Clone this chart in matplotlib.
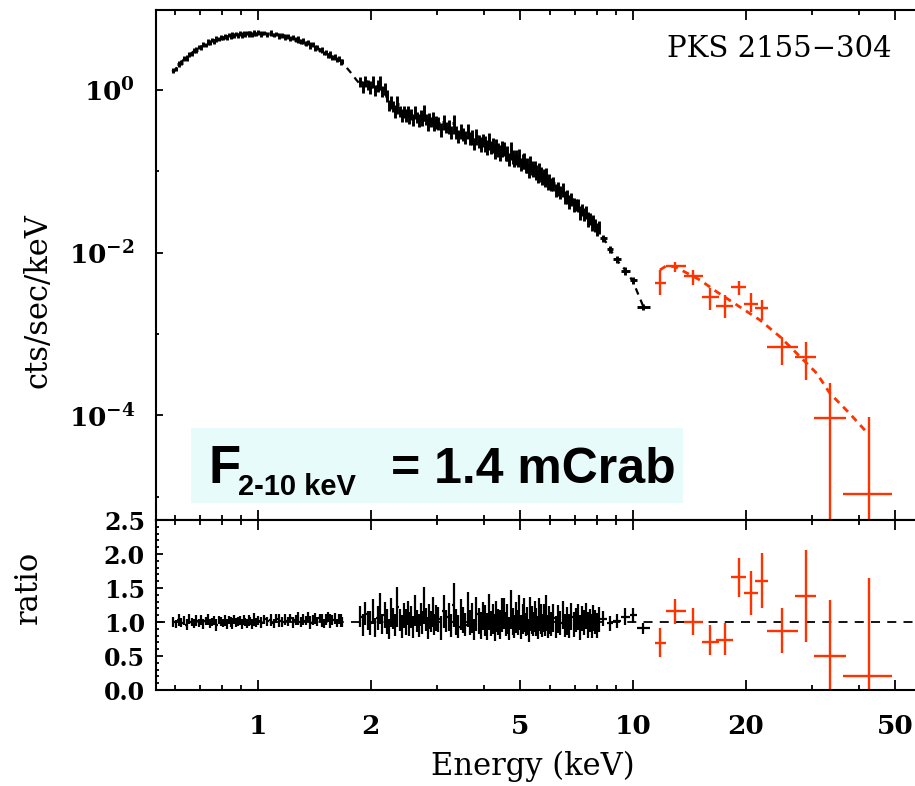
import numpy as np
import matplotlib.pyplot as plt
from matplotlib.patches import Rectangle
from matplotlib.ticker import FixedLocator, FixedFormatter, MultipleLocator, NullFormatter

plt.rcParams['font.family'] = ['DejaVu Serif']
plt.rcParams['mathtext.fontset'] = 'dejavuserif'

RED = '#ff3300'

# ---------------- soft band (black), contiguous bins, keV ----------------
soft_edges = [0.59, 0.60, 0.61, 0.62, 0.63, 0.64, 0.65, 0.66, 0.67, 0.68, 0.69,
              0.70, 0.71, 0.72, 0.73, 0.74, 0.75, 0.76, 0.77, 0.78, 0.79,
              0.80, 0.81, 0.82, 0.83, 0.84, 0.85, 0.86, 0.87, 0.88, 0.89,
              0.90, 0.91, 0.92, 0.93, 0.94, 0.95, 0.96, 0.97, 0.98, 0.99,
              1.01, 1.03, 1.05, 1.07, 1.09, 1.11, 1.13, 1.15, 1.17, 1.19,
              1.21, 1.23, 1.25, 1.27, 1.29, 1.31, 1.33, 1.35, 1.37, 1.39,
              1.41, 1.43, 1.45, 1.47, 1.49, 1.51, 1.53, 1.55, 1.57, 1.59,
              1.61, 1.63, 1.65, 1.67, 1.69]
soft_cts = [1.74, 1.82, 2.08, 2.17, 2.44, 2.49, 2.74, 2.80, 3.07, 3.12,
            3.39, 3.38, 3.63, 3.62, 3.88, 3.84, 4.09, 4.01, 4.26, 4.21,
            4.45, 4.36, 4.58, 4.49, 4.71, 4.60, 4.80, 4.69, 4.90, 4.75,
            4.95, 4.80, 5.00, 4.84, 5.04, 4.86, 5.06, 4.88, 5.08, 4.90,
            5.07, 4.91, 5.06, 4.87, 5.01, 4.76, 4.85, 4.61, 4.72, 4.47,
            4.57, 4.32, 4.42, 4.14, 4.21, 3.93, 4.00, 3.73, 3.80, 3.54,
            3.62, 3.32, 3.36, 3.08, 3.12, 2.86, 2.90, 2.68, 2.72, 2.52,
            2.57, 2.37, 2.42, 2.22, 2.25]
soft_ratio = [1.00, 0.97, 1.03, 0.99, 1.02, 0.96, 1.04, 1.00, 0.98, 1.02,
              0.99, 1.03, 0.97, 1.01, 1.04, 0.98, 1.00, 1.02, 0.96, 1.03,
              1.01, 0.99, 1.02, 0.97, 1.03, 1.00, 0.98, 1.04, 0.99, 1.01,
              1.02, 0.97, 1.03, 1.00, 0.98, 1.02, 1.01, 0.97, 1.04, 0.99,
              1.02, 0.99, 1.04, 1.01, 1.03, 0.98, 1.05, 1.02, 1.00, 1.04,
              1.01, 1.06, 0.99, 1.03, 1.05, 1.00, 1.04, 1.02, 1.07, 0.99,
              1.03, 1.05, 1.01, 1.06, 1.02, 0.98, 1.04, 1.07, 1.01, 1.03,
              1.05, 0.99, 1.04, 1.02, 1.00]
soft_frac = [0.07, 0.06, 0.08, 0.07, 0.06, 0.08, 0.07, 0.06, 0.07, 0.08,
             0.06, 0.07, 0.07, 0.06, 0.08, 0.07, 0.06, 0.07, 0.09, 0.06,
             0.07, 0.06, 0.08, 0.07, 0.06, 0.07, 0.08, 0.06, 0.07, 0.07,
             0.06, 0.08, 0.07, 0.06, 0.07, 0.08, 0.06, 0.07, 0.09, 0.07,
             0.07, 0.08, 0.06, 0.07, 0.08, 0.07, 0.06, 0.09, 0.07, 0.08,
             0.07, 0.06, 0.08, 0.07, 0.09, 0.07, 0.08, 0.06, 0.07, 0.10,
             0.07, 0.08, 0.07, 0.06, 0.09, 0.07, 0.08, 0.07, 0.10, 0.07,
             0.08, 0.06, 0.07, 0.09, 0.08]

# ---------------- hard band (black), contiguous bins, keV ----------------
hard_edges = [1.86, 1.89, 1.92, 1.95, 1.98, 2.01, 2.04, 2.07, 2.10, 2.13, 2.16, 2.19,
              2.22, 2.25, 2.28, 2.31, 2.34, 2.37, 2.40, 2.43, 2.46, 2.49, 2.52, 2.55,
              2.58, 2.61, 2.64, 2.67, 2.70, 2.73, 2.76, 2.79, 2.82, 2.85, 2.88, 2.91,
              2.94, 2.97, 3.00,
              3.05, 3.10, 3.15, 3.20, 3.25, 3.30, 3.35, 3.40, 3.45, 3.50,
              3.55, 3.60, 3.65, 3.70, 3.75, 3.80, 3.85, 3.90, 3.95, 4.00,
              4.05, 4.10, 4.15, 4.20, 4.25, 4.30, 4.35, 4.40, 4.45, 4.50,
              4.55, 4.60, 4.65, 4.70, 4.75, 4.80, 4.85, 4.90, 4.95, 5.00,
              5.05, 5.10, 5.15, 5.20, 5.25, 5.30, 5.35, 5.40, 5.45, 5.50,
              5.55, 5.60, 5.65, 5.70, 5.75, 5.80, 5.85, 5.90, 5.95, 6.00,
              6.09, 6.18, 6.27, 6.36, 6.45, 6.54, 6.63, 6.72, 6.81, 6.90, 6.99, 7.08,
              7.17, 7.26, 7.35, 7.44, 7.53, 7.62, 7.71, 7.80, 7.89, 7.98, 8.07, 8.16,
              8.50, 8.85, 9.30, 9.80, 10.25, 11.10]
hard_cts = [1.253, 1.093, 1.277, 1.153, 1.098, 1.277, 1.003, 1.124, 1.236, 0.970,
            1.045, 0.859, 0.648, 0.718, 0.630, 0.552, 0.671, 0.551, 0.489, 0.550,
            0.497, 0.554, 0.469, 0.509, 0.435, 0.539, 0.464, 0.427, 0.492, 0.433,
            0.534, 0.442, 0.380, 0.444, 0.408, 0.457, 0.374, 0.406,
            0.389, 0.330, 0.408, 0.349, 0.355, 0.306, 0.391, 0.304, 0.275, 0.320,
            0.289, 0.264, 0.316, 0.257, 0.268, 0.220, 0.270, 0.237, 0.219, 0.244,
            0.223, 0.201, 0.240, 0.200, 0.210, 0.180, 0.207, 0.187, 0.174, 0.194,
            0.193, 0.161, 0.168, 0.142, 0.183, 0.152, 0.137, 0.152, 0.138, 0.154,
            0.123, 0.134, 0.138, 0.116, 0.120, 0.102, 0.127, 0.112, 0.103, 0.110,
            0.099, 0.0883, 0.103, 0.0936, 0.0827, 0.0890, 0.0794, 0.0893, 0.0714, 0.0762,
            0.0694, 0.0710, 0.0589, 0.0624, 0.0564, 0.0595, 0.0487, 0.0495, 0.0429, 0.0462,
            0.0391, 0.0391, 0.0383, 0.0311, 0.0336, 0.0300, 0.0313, 0.0261, 0.0262, 0.0228,
            0.0244, 0.0219, 0.0197, 0.0205,
            0.0150, 0.0110, 0.0083, 0.0060, 0.0046, 0.00216]
hard_ratio = [1.08, 0.95, 1.12, 1.02, 0.98, 1.15, 0.92, 1.06, 1.20, 0.97,
              1.10, 1.01, 0.90, 1.14, 1.05, 0.96, 1.22, 1.03, 0.94, 1.09,
              1.00, 1.13, 0.97, 1.07, 0.93, 1.17, 1.02, 0.95, 1.11, 0.99,
              1.24, 1.04, 0.91, 1.08, 1.01, 1.15, 0.96, 1.06,
              1.04, 0.91, 1.16, 1.02, 1.07, 0.95, 1.25, 1.00, 0.93, 1.11,
              1.03, 0.96, 1.18, 0.99, 1.06, 0.89, 1.12, 1.01, 0.95, 1.09,
              1.02, 0.94, 1.15, 0.98, 1.05, 0.92, 1.08, 1.00, 0.96, 1.10,
              1.13, 0.97, 1.04, 0.90, 1.19, 1.01, 0.94, 1.07, 0.99, 1.14,
              0.93, 1.05, 1.10, 0.96, 1.02, 0.88, 1.12, 1.03, 0.97, 1.08,
              1.00, 0.92, 1.11, 1.04, 0.95, 1.06, 0.98, 1.13, 0.94, 1.03,
              0.97, 1.06, 0.93, 1.04, 0.99, 1.10, 0.95, 1.02, 0.94, 1.08,
              0.97, 1.03, 1.07, 0.92, 1.05, 0.99, 1.09, 0.96, 1.02, 0.94,
              1.06, 1.00, 0.95, 1.04,
              1.05, 0.98, 1.02, 1.08, 1.10, 0.91]
hard_frac = [0.14, 0.17, 0.15, 0.14, 0.18, 0.16, 0.15, 0.17, 0.19, 0.15,
             0.17, 0.18, 0.16, 0.19, 0.15, 0.17, 0.24, 0.16, 0.18, 0.17,
             0.19, 0.16, 0.18, 0.15, 0.17, 0.19, 0.16, 0.18, 0.15, 0.17,
             0.22, 0.16, 0.18, 0.17, 0.15, 0.19, 0.16, 0.18,
             0.18, 0.19, 0.21, 0.16, 0.19, 0.18, 0.26, 0.19, 0.18, 0.21,
             0.19, 0.18, 0.22, 0.19, 0.21, 0.18, 0.22, 0.19, 0.21, 0.19,
             0.22, 0.21, 0.23, 0.19, 0.21, 0.22, 0.21, 0.19, 0.22, 0.23,
             0.20, 0.18, 0.21, 0.19, 0.24, 0.20, 0.18, 0.21, 0.19, 0.22,
             0.19, 0.21, 0.23, 0.18, 0.20, 0.19, 0.22, 0.20, 0.18, 0.21,
             0.20, 0.19, 0.22, 0.21, 0.18, 0.20, 0.19, 0.23, 0.18, 0.20,
             0.18, 0.19, 0.17, 0.20, 0.18, 0.19, 0.18, 0.20, 0.19, 0.18,
             0.19, 0.17, 0.18, 0.20, 0.17, 0.19, 0.18, 0.20, 0.17, 0.19,
             0.18, 0.17, 0.19, 0.18,
             0.10, 0.11, 0.10, 0.11, 0.10, 0.09]

# black model curve
blk_model_e = [0.59, 0.60, 0.632, 0.672, 0.73, 0.79, 0.86, 0.99, 1.12, 1.24, 1.40,
               1.52, 1.67, 1.76, 1.83, 1.88, 2.0, 2.1, 2.17, 2.25, 2.35, 2.45, 2.6,
               2.8, 3.0, 3.53, 4.33, 5.31, 6.52, 7.22, 8.0, 9.05, 9.6, 10.0, 10.66]
blk_model_y = [1.68, 1.76, 2.34, 2.96, 3.75, 4.33, 4.75, 4.98, 4.75, 4.33, 3.58,
               2.83, 2.23, 1.68, 1.33, 1.15, 1.12, 1.05, 0.97, 0.64, 0.55, 0.50, 0.46,
               0.42, 0.38, 0.28, 0.192, 0.114, 0.054, 0.0334, 0.0208, 0.0081, 0.0059,
               0.0044, 0.00216]

# ---------------- hard X-ray detector (red) ----------------
red_e = [11.8, 12.94, 14.45, 16.04, 17.59, 19.17, 20.6, 22.03, 24.92, 28.93, 33.5, 42.7]
red_elo = [11.45, 12.25, 13.68, 15.28, 16.65, 18.25, 19.77, 21.15, 22.73, 27.04, 30.4, 36.25]
red_ehi = [12.25, 13.85, 15.37, 16.96, 18.48, 20.01, 21.5, 22.9, 27.6, 30.71, 36.9, 48.97]
red_cts = [4.27e-3, 6.84e-3, 5.20e-3, 2.87e-3, 2.20e-3, 3.74e-3, 2.33e-3, 2.07e-3,
           6.84e-4, 5.24e-4, 9.16e-5, 1.07e-5]
red_lo = [3.0e-3, 5.82e-3, 3.99e-3, 1.97e-3, 1.57e-3, 3.01e-3, 1.87e-3, 1.48e-3,
          4.15e-4, 2.71e-4, 1e-7, 1e-7]
red_hi = [6.1e-3, 7.73e-3, 6.11e-3, 3.67e-3, 3.01e-3, 4.51e-3, 3.19e-3, 2.61e-3,
          9.24e-4, 8.02e-4, 2.47e-4, 9.58e-5]
red_ratio = [0.696, 1.162, 1.005, 0.711, 0.735, 1.667, 1.422, 1.603, 0.873, 1.387, 0.505, 0.206]
red_rlo = [0.49, 0.97, 0.81, 0.515, 0.515, 1.372, 1.10, 1.20, 0.54, 0.71, 0.0, 0.0]
red_rhi = [0.907, 1.334, 1.20, 0.956, 0.98, 1.936, 1.75, 2.01, 1.21, 2.06, 1.32, 1.64]

red_model_e = [11.8, 12.25, 12.94, 15.09, 16.72, 19.29, 21.81, 24.66, 28.46, 30.9, 33.5, 37.9, 42.0]
red_model_y = [6.11e-3, 6.84e-3, 6.71e-3, 4.60e-3, 3.30e-3, 2.14e-3, 1.48e-3, 9.24e-4,
               4.79e-4, 3.28e-4, 1.86e-4, 1.04e-4, 6.18e-5]


def bins(edges, cts, ratio, frac):
    edges = np.array(edges)
    lo, hi = edges[:-1], edges[1:]
    e = np.sqrt(lo * hi)
    cts = np.array(cts)
    ratio = np.array(ratio)
    frac = np.array(frac)
    return e, [e - lo, hi - e], cts, cts * frac, ratio, ratio * frac


fig = plt.figure(figsize=(9.15, 7.86), dpi=100)
W, H = 915.0, 786.0
ax1 = fig.add_axes([156 / W, 1 - 520 / H, 769 / W, 510 / H])
ax2 = fig.add_axes([156 / W, 1 - 690 / H, 769 / W, 170 / H])

ax1.plot(blk_model_e, blk_model_y, color='k', lw=1.6, dashes=(3, 2.5), zorder=1)
ax1.plot(red_model_e, red_model_y, color=RED, lw=2.0, dashes=(2.5, 2), zorder=1)
ax2.axhline(1.0, color='k', lw=1.3, dashes=(5, 4), zorder=1)

for seg in [(soft_edges, soft_cts, soft_ratio, soft_frac),
            (hard_edges, hard_cts, hard_ratio, hard_frac)]:
    e, xerr, c, cerr, r, rerr = bins(*seg)
    ax1.errorbar(e, c, xerr=xerr, yerr=cerr, fmt='none', ecolor='k', elinewidth=2.1, capsize=0)
    ax2.errorbar(e, r, xerr=xerr, yerr=rerr, fmt='none', ecolor='k', elinewidth=1.6, capsize=0)

re = np.array(red_e)
rxerr = [re - np.array(red_elo), np.array(red_ehi) - re]
rc = np.array(red_cts)
ax1.errorbar(re, rc, xerr=rxerr, yerr=[rc - np.array(red_lo), np.array(red_hi) - rc],
             fmt='none', ecolor=RED, elinewidth=1.7, capsize=0)
rr = np.array(red_ratio)
ax2.errorbar(re, rr, xerr=rxerr, yerr=[rr - np.array(red_rlo), np.array(red_rhi) - rr],
             fmt='none', ecolor=RED, elinewidth=1.7, capsize=0)

xmaj = [1, 2, 5, 10, 20, 50]
xmin = [0.6, 0.7, 0.8, 0.9, 3, 4, 6, 7, 8, 9, 30, 40]
for ax in (ax1, ax2):
    ax.set_xscale('log')
    ax.set_xlim(0.5346, 60.08)
    ax.xaxis.set_major_locator(FixedLocator(xmaj))
    ax.xaxis.set_minor_locator(FixedLocator(xmin))
    ax.xaxis.set_minor_formatter(NullFormatter())
    ax.tick_params(which='both', direction='in', top=True, right=True, width=1.3)
    ax.tick_params(axis='x', which='major', length=7)
    ax.tick_params(axis='x', which='minor', length=3.5)
    ax.tick_params(axis='y', which='major', length=5)
    ax.tick_params(axis='y', which='minor', length=2.5)
    for s in ax.spines.values():
        s.set_linewidth(1.5)

ax1.set_yscale('log')
ax1.set_ylim(5.14e-6, 9.64)
ax1.yaxis.set_major_locator(FixedLocator([1e-4, 1e-2, 1.0]))
ax1.yaxis.set_major_formatter(FixedFormatter([r'$\mathbf{10^{-4}}$', r'$\mathbf{10^{-2}}$',
                                              r'$\mathbf{10^{0}}$']))
ax1.yaxis.set_minor_locator(FixedLocator([1e-5, 1e-3, 1e-1]))
ax1.yaxis.set_minor_formatter(NullFormatter())
ax1.xaxis.set_major_formatter(NullFormatter())
ax1.tick_params(axis='y', labelsize=19, pad=15)

ax2.set_ylim(0, 2.5)
ax2.yaxis.set_minor_locator(MultipleLocator(0.1))
ax2.yaxis.set_major_locator(FixedLocator([0, 0.5, 1.0, 1.5, 2.0, 2.5]))
ax2.yaxis.set_major_formatter(FixedFormatter(['0.0', '0.5', '1.0', '1.5', '2.0', '2.5']))
ax2.xaxis.set_major_formatter(FixedFormatter(['1', '2', '5', '10', '20', '50']))
ax2.tick_params(axis='y', labelsize=17, pad=8)
ax2.tick_params(axis='x', labelsize=19, pad=17)
for lab in ax2.get_xticklabels() + ax2.get_yticklabels():
    lab.set_fontweight('bold')

ax1.set_ylabel('cts/sec/keV', fontsize=22)
ax1.yaxis.set_label_coords(-0.133, 0.431)
ax2.set_ylabel('ratio', fontsize=22)
ax2.yaxis.set_label_coords(-0.146, 0.606)
ax2.set_xlabel('Energy (keV)', fontsize=22)
ax2.xaxis.set_label_coords(0.49, -0.36)

fig.text(779 / W, 1 - 57 / H, 'PKS 2155\u2212304', fontsize=21, ha='center', va='baseline')

fig.patches.append(Rectangle((191 / W, 1 - 503 / H), 492 / W, 75 / H, transform=fig.transFigure,
                             figure=fig, facecolor='#e8fbfb', edgecolor='none', zorder=2))
sans = ['Liberation Sans', 'DejaVu Sans']
fig.text(208 / W, 1 - 483 / H, 'F', fontsize=38, family=sans, weight='bold', va='baseline', zorder=3)
fig.text(238 / W, 1 - 495 / H, '2-10 keV', fontsize=21, family=sans, weight='bold', va='baseline', zorder=3)
fig.text(391 / W, 1 - 483 / H, '= 1.4 mCrab', fontsize=36, family=sans, weight='bold', va='baseline', zorder=3)

fig.savefig('out.png', dpi=100)
